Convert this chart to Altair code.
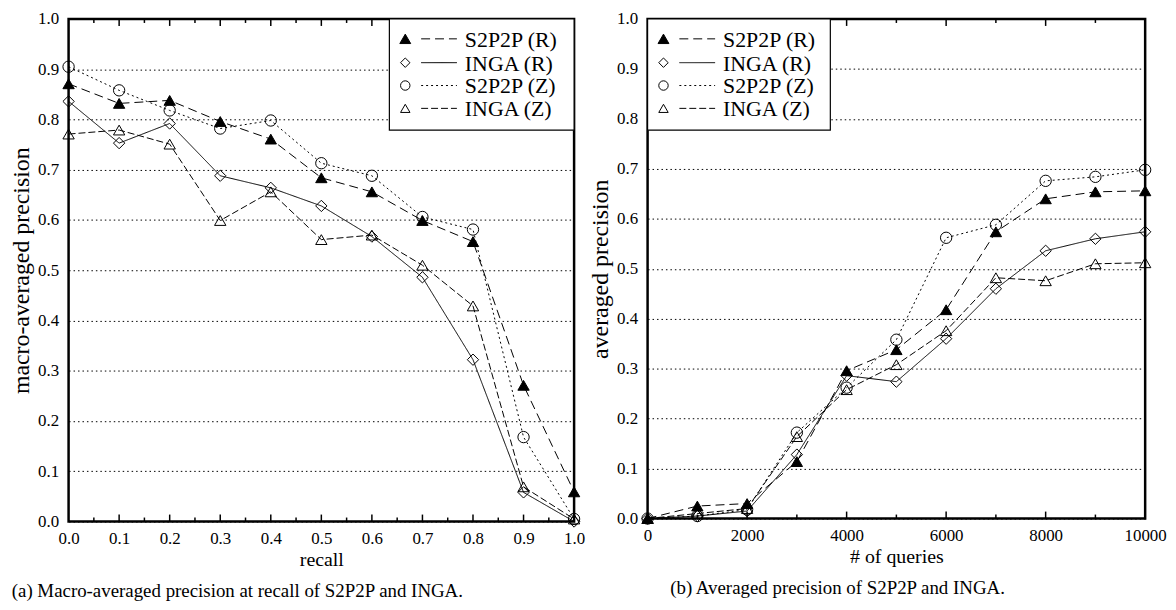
import altair as alt
import pandas as pd

SERIES = ["S2P2P (R)", "INGA (R)", "S2P2P (Z)", "INGA (Z)"]
SHAPES = ["triangle-up", "diamond", "circle", "triangle-up"]
FILLS = ["black", "transparent", "transparent", "transparent"]
DASHES = [[9, 5], [1, 0], [2, 3], [7, 3]]

# (a) precision at recall
recall = [0.0, 0.1, 0.2, 0.3, 0.4, 0.5, 0.6, 0.7, 0.8, 0.9, 1.0]
a_s2p2p_r = [0.871, 0.832, 0.838, 0.796, 0.761, 0.684, 0.656, 0.599, 0.557, 0.271, 0.059]
a_inga_r = [0.836, 0.753, 0.792, 0.688, 0.664, 0.628, 0.567, 0.486, 0.322, 0.058, 0.0]
a_s2p2p_z = [0.905, 0.858, 0.818, 0.782, 0.798, 0.713, 0.688, 0.606, 0.581, 0.168, 0.005]
a_inga_z = [0.771, 0.779, 0.751, 0.599, 0.656, 0.561, 0.570, 0.510, 0.429, 0.069, 0.005]

# (b) precision vs number of queries
queries = [0, 1000, 2000, 3000, 4000, 5000, 6000, 7000, 8000, 9000, 10000]
b_s2p2p_r = [0.0, 0.025, 0.030, 0.114, 0.296, 0.338, 0.418, 0.574, 0.640, 0.654, 0.656]
b_inga_r = [0.0, 0.005, 0.015, 0.128, 0.286, 0.274, 0.360, 0.460, 0.536, 0.560, 0.574]
b_s2p2p_z = [0.0, 0.005, 0.018, 0.172, 0.262, 0.358, 0.562, 0.588, 0.676, 0.684, 0.698]
b_inga_z = [0.0, 0.010, 0.020, 0.164, 0.258, 0.308, 0.376, 0.482, 0.476, 0.510, 0.512]

y_ticks = [0.0, 0.1, 0.2, 0.3, 0.4, 0.5, 0.6, 0.7, 0.8, 0.9, 1.0]
a_major = [0.1, 0.2, 0.3, 0.4, 0.5, 0.6, 0.7, 0.8, 0.9]
a_minor = [0.05, 0.15, 0.25, 0.35, 0.45, 0.55, 0.65, 0.75, 0.85, 0.95]
b_labels = [0, 2000, 4000, 6000, 8000, 10000]
b_major = [2000, 4000, 6000, 8000]
b_minor = [1000, 3000, 5000, 7000, 9000]

FONT = "Liberation Serif"


def long_df(xs, cols):
    rows = []
    for name, vals in zip(SERIES, cols):
        for x, v in zip(xs, vals):
            rows.append({"x": x, "y": v, "series": name})
    return pd.DataFrame(rows)


def panel(df, xdomain, xvalues, xfmt, xtitle, ytitle, major, minor,
          width, height, leg_x0, leg_x1, caption, cap_dx):
    xenc = alt.X("x:Q", scale=alt.Scale(domain=xdomain, nice=False, zero=False),
                 axis=alt.Axis(values=xvalues, format=xfmt, title=xtitle, ticks=False,
                               domain=False, grid=False, labelPadding=9,
                               titlePadding=3, labelFlush=False, titleFontSize=20))
    yenc = alt.Y("y:Q", scale=alt.Scale(domain=[0, 1], nice=False),
                 axis=alt.Axis(values=y_ticks, format=".1f", title=ytitle, ticks=False,
                               domain=False, grid=True, gridColor="black", gridDash=[1.5, 3],
                               gridWidth=1, gridOpacity=1, labelPadding=10, titlePadding=4,
                               titleFontSize=24))
    base = alt.Chart(df)
    lines = base.mark_line(color="black", strokeWidth=1).encode(
        x=xenc, y=yenc,
        strokeDash=alt.StrokeDash("series:N", scale=alt.Scale(domain=SERIES, range=DASHES), legend=None),
    )
    pts = base.mark_point(filled=True, size=130, stroke="black", strokeWidth=1, opacity=1).encode(
        x="x:Q", y="y:Q",
        shape=alt.Shape("series:N", scale=alt.Scale(domain=SERIES, range=SHAPES), legend=None),
        fill=alt.Fill("series:N", scale=alt.Scale(domain=SERIES, range=FILLS), legend=None),
    )
    tick_layers = []
    for vals, ln in [(major, 7), (minor, 4)]:
        tdf = pd.DataFrame({"x": vals})
        tick_layers.append(alt.Chart(tdf).mark_rule(color="black", strokeWidth=1.5).encode(
            x="x:Q", y=alt.value(height), y2=alt.value(height - ln)))
        tick_layers.append(alt.Chart(tdf).mark_rule(color="black", strokeWidth=1.5).encode(
            x="x:Q", y=alt.value(0), y2=alt.value(ln)))

    one = pd.DataFrame({"k": [0]})
    leg = [alt.Chart(one).mark_rect(fill="white", stroke="black", strokeWidth=1.2).encode(
        x=alt.value(leg_x0), x2=alt.value(leg_x1), y=alt.value(0), y2=alt.value(112))]
    rows_y = [20, 44, 67, 90]
    for i, name in enumerate(SERIES):
        ry = rows_y[i]
        ldf = pd.DataFrame({"label": [name]})
        leg.append(alt.Chart(ldf).mark_rule(color="black", strokeWidth=1, strokeDash=DASHES[i]).encode(
            x=alt.value(leg_x0 + 32), x2=alt.value(leg_x0 + 68), y=alt.value(ry)))
        leg.append(alt.Chart(ldf).mark_point(filled=True, size=90 if i else 120, stroke="black",
                                             strokeWidth=1, opacity=1, shape=SHAPES[i],
                                             fill=FILLS[i]).encode(
            x=alt.value(leg_x0 + 16), y=alt.value(ry)))
        leg.append(alt.Chart(ldf).mark_text(align="left", baseline="middle", font=FONT,
                                            fontSize=22, color="black").encode(
            x=alt.value(leg_x0 + 76), y=alt.value(ry + 1), text="label:N"))

    return alt.layer(lines, *tick_layers, *leg, pts).properties(
        width=width, height=height,
        title=alt.TitleParams(caption, orient="bottom", anchor="start", frame="bounds",
                              font=FONT, fontSize=19, fontWeight="normal", color="black",
                              offset=13, dx=cap_dx),
    )


left = panel(long_df(recall, [a_s2p2p_r, a_inga_r, a_s2p2p_z, a_inga_z]),
             [0, 1], y_ticks, ".1f", "recall", "macro-averaged precision",
             a_major, a_minor, 509, 506, 323, 509,
             "(a) Macro-averaged precision at recall of S2P2P and INGA.", 2)
right = panel(long_df(queries, [b_s2p2p_r, b_inga_r, b_s2p2p_z, b_inga_z]),
              [0, 10000], b_labels, "d", "# of queries", "averaged precision",
              b_major, b_minor, 501, 503, 0, 184,
              "(b) Averaged precision of S2P2P and INGA.", 82)

chart = alt.hconcat(left, right, spacing=1).properties(
    padding={"left": 0, "top": -2, "right": 0, "bottom": 0}
).configure_view(stroke="black", strokeWidth=2.5).configure_axis(
    labelFont=FONT, labelFontSize=17, labelColor="black",
    titleFont=FONT, titleFontSize=20, titleFontWeight="normal", titleColor="black",
)

chart.save("out.html", embed_options={"renderer": "svg", "actions": False})
